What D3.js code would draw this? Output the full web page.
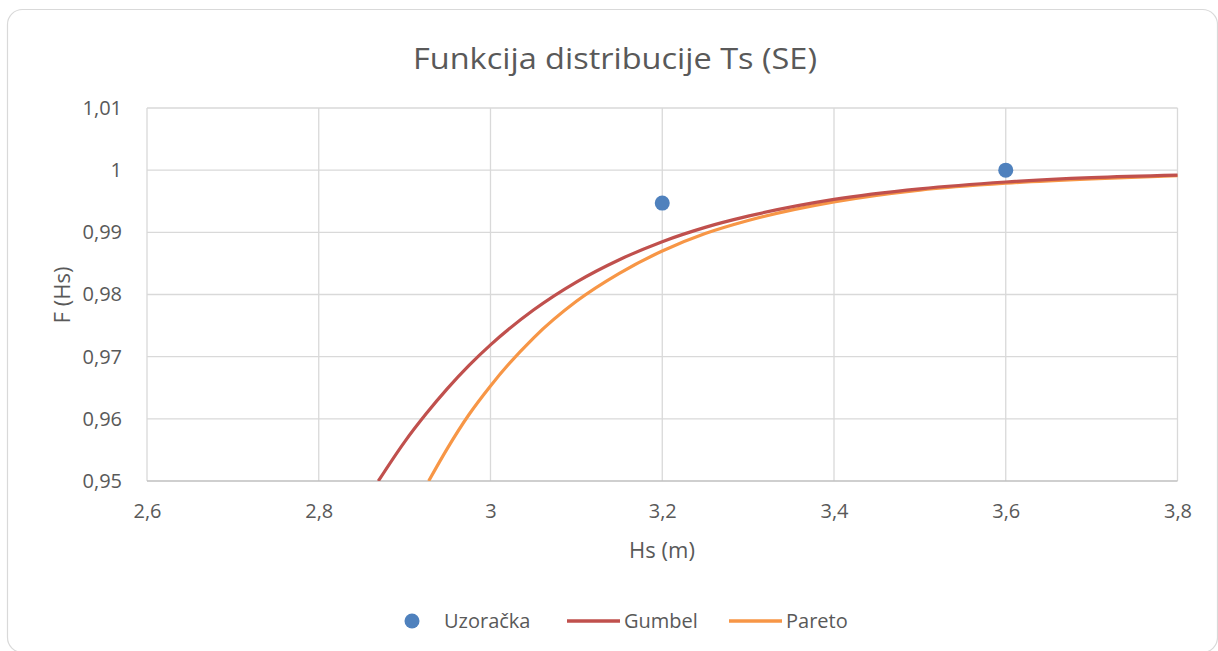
<!DOCTYPE html>
<html><head><meta charset="utf-8">
<script src="https://cdn.jsdelivr.net/npm/d3@7"></script>
<style>body{margin:0;background:#fff;}svg{display:block;}text{font-family:"Open Sans",sans-serif;fill:#595959;}</style>
</head><body><svg id="c" width="1218" height="651"></svg>
<script>
const xTicks = [2.6, 2.8, 3.0, 3.2, 3.4, 3.6, 3.8];
const yTicks = [0.95, 0.96, 0.97, 0.98, 0.99, 1.00, 1.01];
const sampleX = [3.2, 3.6];
const sampleF = [0.9947, 1.0];
const gumbelX = [2.8694, 2.90, 2.925, 2.95, 2.975, 3.00, 3.05, 3.10, 3.15, 3.20, 3.25, 3.30, 3.40, 3.50, 3.60, 3.70, 3.80];
const gumbelF = [0.9500, 0.9563, 0.9608, 0.9649, 0.9686, 0.9719, 0.9775, 0.9820, 0.9856, 0.9885, 0.9908, 0.9926, 0.9953, 0.9970, 0.9981, 0.9988, 0.9992];
const paretoX = [2.928, 2.95, 2.975, 3.00, 3.05, 3.10, 3.15, 3.20, 3.25, 3.30, 3.40, 3.50, 3.60, 3.70, 3.80];
const paretoF = [0.9500, 0.9553, 0.9607, 0.9653, 0.9730, 0.9789, 0.9834, 0.9870, 0.9898, 0.9919, 0.9949, 0.9968, 0.9979, 0.9986, 0.9991];
const seriesNames = ["Uzoračka", "Gumbel", "Pareto"];
const colors = {blue: "#4f81bd", red: "#c0504d", orange: "#f79646"};

const svg = d3.select("#c");
svg.append("rect").attr("x", 7.5).attr("y", 9.5).attr("width", 1210).attr("height", 643)
  .attr("rx", 15).attr("fill", "#fff").attr("stroke", "#d9d9d9").attr("stroke-width", 1.2);

const x = d3.scaleLinear().domain([2.6, 3.8]).range([147, 1177.5]);
const y = d3.scaleLinear().domain([0.95, 1.01]).range([481, 108]);
const fmt = d => d3.format(".2~f")(d).replace(".", ",");

svg.append("text").attr("x", 615).attr("y", 69).attr("text-anchor", "middle")
  .attr("font-size", 30).attr("font-weight", 400).attr("textLength", 404).attr("lengthAdjust","spacingAndGlyphs")
  .text("Funkcija distribucije Ts (SE)");

// gridlines
const g = svg.append("g");
g.selectAll(".hg").data(yTicks.slice(1)).join("line")
  .attr("x1", x(2.6)).attr("x2", x(3.8)).attr("y1", d => y(d)).attr("y2", d => y(d))
  .attr("stroke", "#d9d9d9").attr("stroke-width", 1.3);
g.selectAll(".vg").data(xTicks).join("line")
  .attr("x1", d => x(d)).attr("x2", d => x(d)).attr("y1", y(1.01)).attr("y2", y(0.95))
  .attr("stroke", "#d9d9d9").attr("stroke-width", 1.3);
g.append("line").attr("x1", x(2.6)).attr("x2", x(3.8)).attr("y1", y(0.95)).attr("y2", y(0.95))
  .attr("stroke", "#bfbfbf").attr("stroke-width", 1.5);

// axes (labels only)
const ax = svg.append("g").attr("transform", `translate(0,${y(0.95)})`)
  .call(d3.axisBottom(x).tickValues(xTicks).tickFormat(fmt).tickSize(0).tickPadding(23));
ax.select(".domain").remove();
ax.selectAll("text").attr("font-size", 20).attr("fill", "#595959").style("font-family", "'Open Sans',sans-serif");
const ay = svg.append("g").attr("transform", `translate(${x(2.6)},0)`)
  .call(d3.axisLeft(y).tickValues(yTicks).tickFormat(fmt).tickSize(0).tickPadding(25));
ay.select(".domain").remove();
ay.selectAll("text").attr("font-size", 20).attr("fill", "#595959").style("font-family", "'Open Sans',sans-serif");

svg.append("text").attr("x", 662).attr("y", 558).attr("text-anchor", "middle").attr("font-size", 22).text("Hs (m)");
svg.append("text").attr("transform", "translate(70,295) rotate(-90)").attr("text-anchor", "middle").attr("font-size", 22).text("F (Hs)");

// curves
svg.append("clipPath").attr("id", "clip").append("rect")
  .attr("x", x(2.6)).attr("y", y(1.01)).attr("width", x(3.8) - x(2.6) + 2).attr("height", y(0.95) - y(1.01));
const line = d3.line().x(d => x(d[0])).y(d => y(d[1])).curve(d3.curveMonotoneX);
const plot = svg.append("g").attr("clip-path", "url(#clip)");
plot.append("path").datum(paretoX.map((v, i) => [v, paretoF[i]])).attr("d", line)
  .attr("fill", "none").attr("stroke", colors.orange).attr("stroke-width", 3.2);
plot.append("path").datum(gumbelX.map((v, i) => [v, gumbelF[i]])).attr("d", line)
  .attr("fill", "none").attr("stroke", colors.red).attr("stroke-width", 3.2);
svg.selectAll(".pt").data(sampleX.map((v, i) => [v, sampleF[i]])).join("circle")
  .attr("cx", d => x(d[0])).attr("cy", d => y(d[1])).attr("r", 7.5).attr("fill", colors.blue);

// legend
const ly = 621;
svg.append("circle").attr("cx", 412).attr("cy", ly).attr("r", 7.5).attr("fill", colors.blue);
svg.append("text").attr("x", 444).attr("y", ly + 7).attr("font-size", 20).text(seriesNames[0]);
svg.append("line").attr("x1", 567).attr("x2", 620).attr("y1", ly).attr("y2", ly).attr("stroke", colors.red).attr("stroke-width", 3.5);
svg.append("text").attr("x", 624).attr("y", ly + 7).attr("font-size", 20).text(seriesNames[1]);
svg.append("line").attr("x1", 729).attr("x2", 782).attr("y1", ly).attr("y2", ly).attr("stroke", colors.orange).attr("stroke-width", 3.5);
svg.append("text").attr("x", 786).attr("y", ly + 7).attr("font-size", 20).text(seriesNames[2]);
</script></body></html>
